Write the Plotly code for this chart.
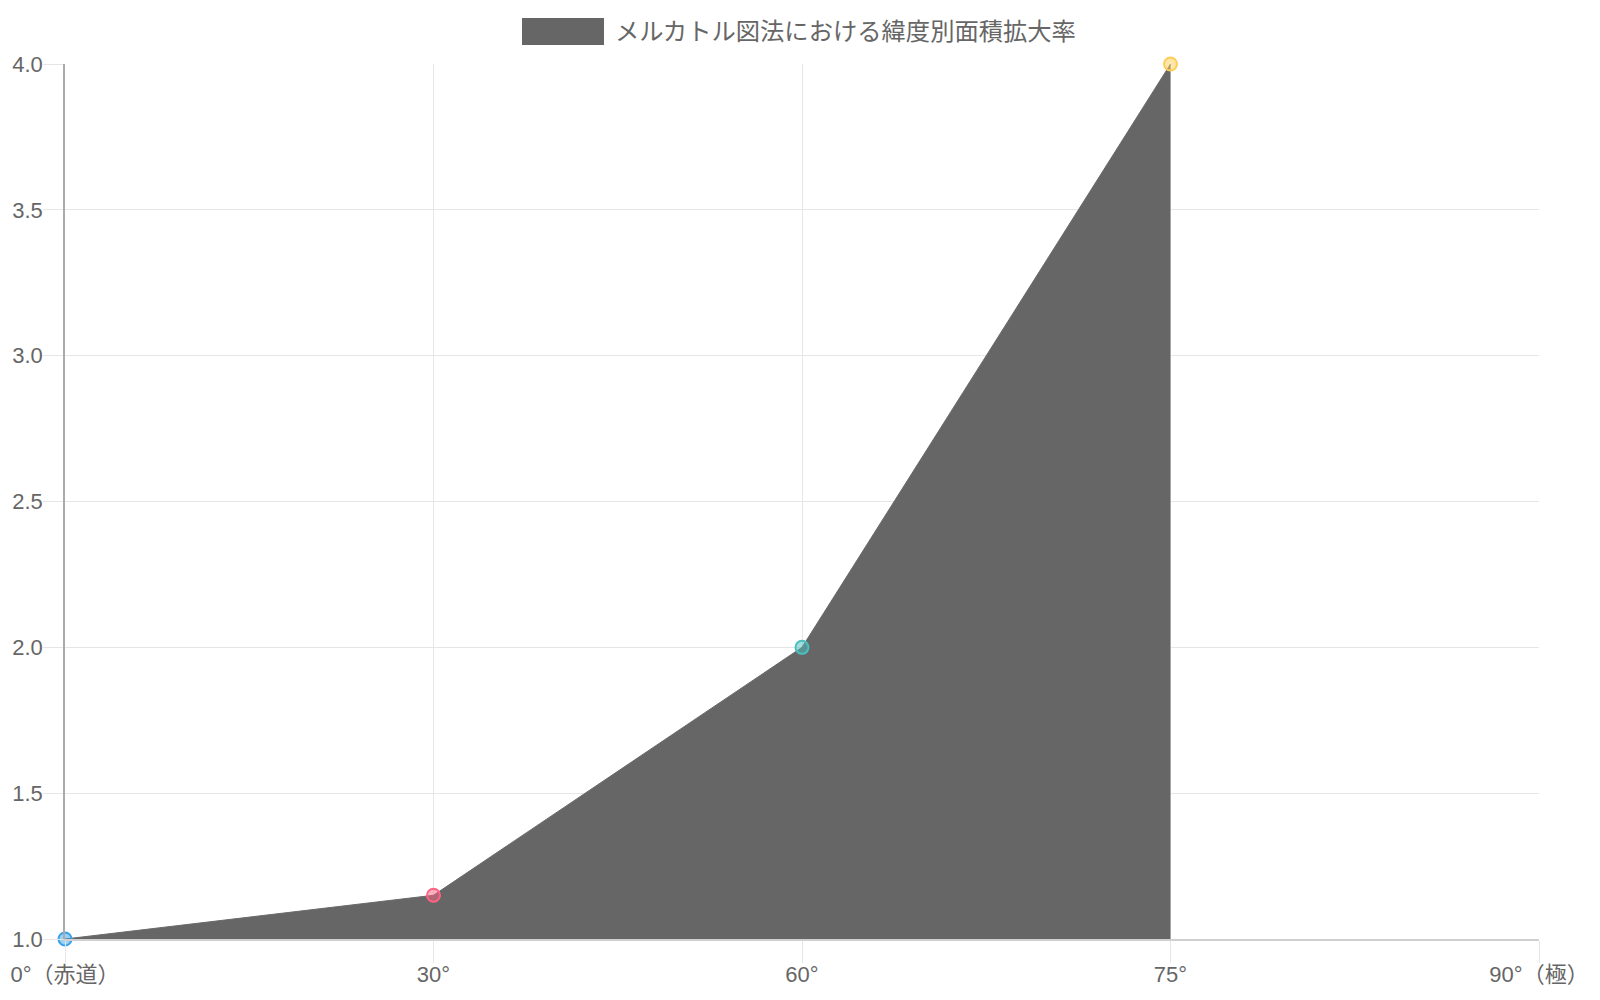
import plotly.graph_objects as go

# ---- data ----
categories = ["0°（赤道）", "30°", "60°", "75°", "90°（極）"]
values = [1.0, 1.15, 2.0, 4.0, None]
point_border_colors = ["rgb(54,162,235)", "rgb(255,99,132)", "rgb(75,192,192)", "rgb(255,205,86)", "rgb(153,102,255)"]
point_fill_colors = ["rgba(54,162,235,0.5)", "rgba(255,99,132,0.5)", "rgba(75,192,192,0.5)", "rgba(255,205,86,0.5)", "rgba(153,102,255,0.5)"]
series_name = "メルカトル図法における緯度別面積拡大率"
y_ticks = [1.0, 1.5, 2.0, 2.5, 3.0, 3.5, 4.0]

FONT = "Liberation Sans, Arial, Noto Sans CJK JP, sans-serif"
TXT = "#666666"
GRID = "#e6e6e6"

fig = go.Figure()
fig.add_trace(go.Scatter(
    x=categories, y=values, mode="lines+markers",
    name=series_name,
    fill="tozeroy", fillcolor="#666666",
    line=dict(color="#6a6a6a", width=1),
    marker=dict(size=13, color=point_fill_colors,
                line=dict(color=point_border_colors, width=2)),
    cliponaxis=False, showlegend=False,
))

# page has an 8px body margin; positions below are page pixels
OFF = 8
W, H = 1600, 1000
L, R, T, B = 65 - OFF, W - (1539 - OFF), 64 - OFF, H - (939 - OFF)
pw, ph = W - L - R, H - T - B

def px2x(px):
    return (px - OFF - L) / pw

def py2y(py):
    return (H - B - (py - OFF)) / ph

fig.add_shape(type="rect", xref="paper", yref="paper",
              x0=px2x(522), x1=px2x(604), y0=py2y(45), y1=py2y(18),
              fillcolor="#666666", line=dict(width=0), layer="above")
fig.add_annotation(text=series_name, xref="paper", yref="paper",
                   x=px2x(613), y=py2y(31.5), xanchor="left", yanchor="middle",
                   showarrow=False, font=dict(size=24.3, color=TXT, family=FONT))

fig.update_layout(
    width=W, height=H,
    margin=dict(l=L, r=R, t=T, b=B, autoexpand=False),
    paper_bgcolor="white", plot_bgcolor="white",
    font=dict(family=FONT, size=22, color=TXT),
    showlegend=False,
)
fig.update_xaxes(
    type="category", range=[0, len(categories) - 1],
    automargin=False,
    showgrid=True, gridcolor=GRID, gridwidth=1,
    showline=True, linecolor="#d0d0d0", linewidth=2,
    ticks="outside", ticklen=22, tickcolor=GRID, tickwidth=1,
    ticklabelstandoff=-7,
    tickfont=dict(size=22, color=TXT, family=FONT),
    zeroline=False, mirror=False,
)
fig.update_yaxes(
    range=[1.0, 4.0], tickvals=y_ticks, tickformat=".1f",
    automargin=False,
    showgrid=True, gridcolor=GRID, gridwidth=1,
    showline=True, linecolor="#aaaaaa", linewidth=1.5,
    ticks="outside", ticklen=20, tickcolor=GRID, tickwidth=1,
    ticklabelstandoff=-4,
    tickfont=dict(size=22, color=TXT, family=FONT),
    zeroline=False,
)

fig.write_html("out.html")
